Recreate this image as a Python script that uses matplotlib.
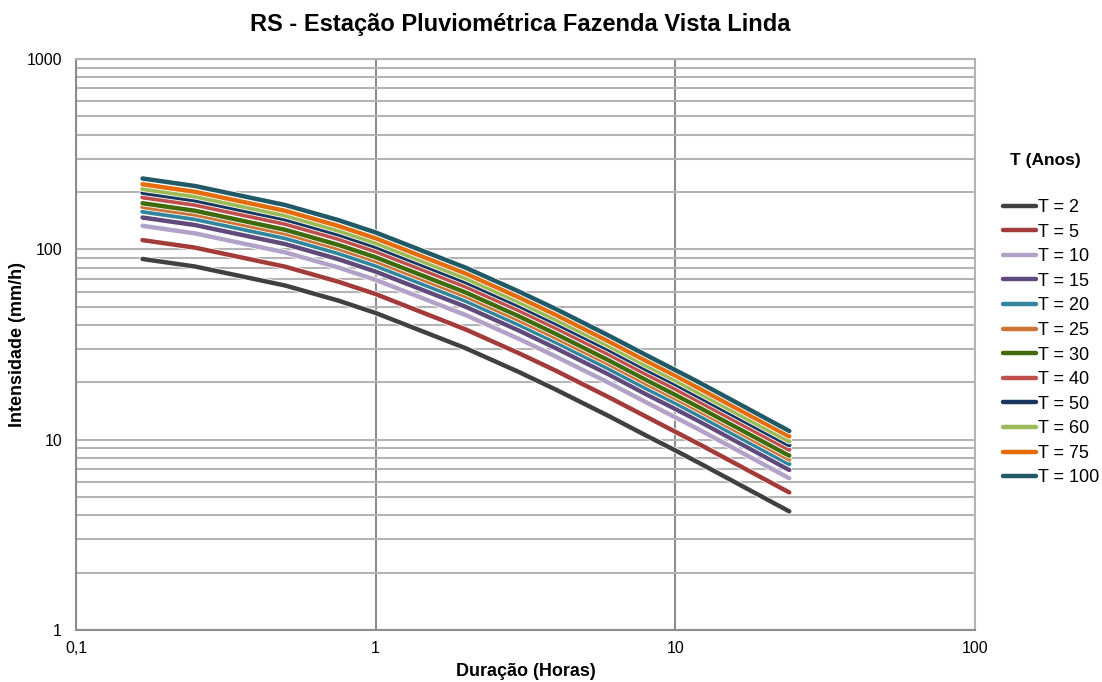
import matplotlib
matplotlib.use("Agg")
import matplotlib.pyplot as plt
import matplotlib.patheffects as pe
from matplotlib.ticker import FixedLocator, NullLocator, FixedFormatter

plt.rcParams['font.family'] = ['Liberation Sans', 'DejaVu Sans']

# Duration (hours)
durations = [0.1667, 0.25, 0.5, 0.75, 1, 2, 3, 4, 6, 8, 10, 12, 24]

# Intensity (mm/h) per return period
T2 = [89.0, 81.2, 64.5, 53.8, 46.3, 30.2, 22.7, 18.3, 13.3, 10.5, 8.78, 7.55, 4.20]
T5 = [111.8, 102.0, 81.0, 67.6, 58.2, 37.9, 28.5, 23.0, 16.7, 13.2, 11.0, 9.48, 5.28]
T10 = [132.9, 121.2, 96.3, 80.3, 69.1, 45.1, 33.9, 27.3, 19.9, 15.7, 13.1, 11.3, 6.27]
T15 = [146.9, 134.1, 106.5, 88.8, 76.4, 49.9, 37.5, 30.2, 22.0, 17.3, 14.5, 12.5, 6.93]
T20 = [157.9, 144.1, 114.4, 95.4, 82.1, 53.6, 40.3, 32.5, 23.6, 18.6, 15.6, 13.4, 7.45]
T25 = [167.1, 152.4, 121.1, 101.0, 86.9, 56.7, 42.6, 34.3, 25.0, 19.7, 16.5, 14.2, 7.88]
T30 = [174.7, 159.4, 126.6, 105.6, 90.9, 59.3, 44.6, 35.9, 26.1, 20.6, 17.2, 14.8, 8.24]
T40 = [187.7, 171.3, 136.0, 113.5, 97.6, 63.7, 47.9, 38.6, 28.1, 22.1, 18.5, 15.9, 8.86]
T50 = [198.4, 181.0, 143.8, 119.9, 103.2, 67.3, 50.6, 40.8, 29.7, 23.4, 19.6, 16.8, 9.36]
T60 = [207.7, 189.5, 150.5, 125.6, 108.1, 70.5, 53.0, 42.7, 31.1, 24.5, 20.5, 17.6, 9.80]
T75 = [219.7, 200.5, 159.3, 132.8, 114.3, 74.6, 56.0, 45.2, 32.8, 25.9, 21.7, 18.6, 10.4]
T100 = [235.7, 215.0, 170.8, 142.5, 122.6, 80.0, 60.1, 48.5, 35.2, 27.8, 23.2, 20.0, 11.1]

series = [T2, T5, T10, T15, T20, T25, T30, T40, T50, T60, T75, T100]
labels = ["T = 2", "T = 5", "T = 10", "T = 15", "T = 20", "T = 25", "T = 30",
          "T = 40", "T = 50", "T = 60", "T = 75", "T = 100"]
colors = ["#404040", "#a33b3a", "#b3a2c7", "#604a7b", "#31859c", "#cd7437",
          "#3f6b0b", "#c0504d", "#17375e", "#9bbb59", "#e46c0a", "#215967"]

x_ticks = [0.1, 1, 10, 100]
x_ticklabels = ["0,1", "1", "10", "100"]
y_ticks = [1, 10, 100, 1000]
y_ticklabels = ["1", "10", "100", "1000"]

fig = plt.figure(figsize=(11.02, 6.82), dpi=100)
ax = fig.add_axes([76/1102, 1-630/682, (975-76)/1102, (630-59)/682])

ax.set_xscale("log")
ax.set_yscale("log")
ax.set_xlim(0.1, 100)
ax.set_ylim(1, 1000)

ax.xaxis.set_major_locator(FixedLocator(x_ticks))
ax.xaxis.set_major_formatter(FixedFormatter(x_ticklabels))
ax.xaxis.set_minor_locator(NullLocator())
ax.yaxis.set_major_locator(FixedLocator(y_ticks))
ax.yaxis.set_major_formatter(FixedFormatter(y_ticklabels))

ax.grid(True, which="major", axis="x", color="#8c8c8c", linewidth=1.5)
ax.grid(True, which="both", axis="y", color="#b4b4b4", linewidth=1.5)
ax.set_axisbelow(True)
ax.tick_params(axis="both", which="both", length=0, labelsize=11.5, colors="#000000", pad=8)
ax.tick_params(axis="y", pad=10)
for s in ax.spines.values():
    s.set_color("#8c8c8c")
    s.set_linewidth(1.5)
ax.spines["top"].set_color("#b4b4b4")
ax.spines["right"].set_color("#b4b4b4")

handles = []
for vals, lab, c in zip(series, labels, colors):
    h, = ax.plot(durations, vals, color=c, linewidth=3.2, label=lab,
                 solid_capstyle="round", solid_joinstyle="round",
                 path_effects=[pe.Stroke(linewidth=4.4, foreground="white"), pe.Normal()])
    handles.append(h)

ax.set_xlabel("Duração (Horas)", fontsize=13, fontweight="bold")
ax.xaxis.set_label_coords(0.5, -(672-630)/571, transform=ax.transAxes)
ax.xaxis.label.set_va("center")
ax.set_ylabel("Intensidade (mm/h)", fontsize=13, fontweight="bold")
ax.yaxis.set_label_coords(-(76-18)/899, 0.5, transform=ax.transAxes)
ax.yaxis.label.set_va("center")
fig.text(520/1102, 1-25/682, "RS - Estação Pluviométrica Fazenda Vista Linda",
         ha="center", va="center", fontsize=17, fontweight="bold")

fig.text(1045/1102, 1-160/682, "T (Anos)", ha="center", va="center",
         fontsize=12.5, fontweight="bold")
leg = fig.legend(handles=handles, labels=labels, loc="upper left",
                 bbox_to_anchor=(1003/1102, 1-199/682), frameon=False,
                 fontsize=13, handlelength=1.85, handletextpad=0.1,
                 labelspacing=0.42, borderpad=0, borderaxespad=0)
for lh in leg.get_lines():
    lh.set_path_effects([])
    lh.set_linewidth(3.2)

fig.savefig("out.png", dpi=100)
